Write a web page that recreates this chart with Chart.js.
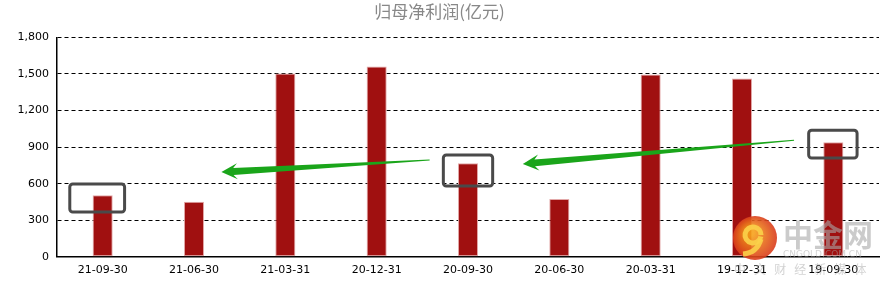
<!DOCTYPE html>
<html>
<head>
<meta charset="utf-8">
<script src="https://cdn.jsdelivr.net/npm/chart.js@4"></script>
<style>
  html, body { margin: 0; padding: 0; background: #fff; }
  #wrap { width: 887px; height: 286px; }
</style>
</head>
<body>
<div id="wrap"><canvas id="profitChart"></canvas></div>
<script>
// Data
const periods = ['21-09-30', '21-06-30', '21-03-31', '20-12-31', '20-09-30', '20-06-30', '20-03-31', '19-12-31', '19-09-30'];
const netProfit = [505, 452, 1503, 1562, 767, 475, 1496, 1462, 939];
const yTicks = [0, 300, 600, 900, 1200, 1500, 1800];

// Highlight boxes: category index, offsets in category units, value range
const boxIndex = [0, 4, 8];
const boxLeft = [-0.36, -0.27, -0.27];
const boxRight = [0.24, 0.27, 0.26];
const boxLow = [368, 581, 810];
const boxHigh = [597, 835, 1039];

// Arrows: tail -> head in (category position, value)
const arrowFrom = [[3.58, 794], [7.57, 957]];
const arrowTo = [[1.30, 695], [4.60, 762]];

const annotations = {
  id: 'annotations',
  afterDatasetsDraw(chart) {
    const { ctx, scales: { x, y } } = chart;
    const step = x.getPixelForValue(1) - x.getPixelForValue(0);
    ctx.save();

    // grey rounded boxes
    ctx.strokeStyle = '#4a4a4a';
    ctx.lineWidth = 3;
    boxIndex.forEach((idx, i) => {
      const cx = x.getPixelForValue(idx);
      const l = cx + boxLeft[i] * step;
      const r = cx + boxRight[i] * step;
      const t = y.getPixelForValue(boxHigh[i]);
      const b = y.getPixelForValue(boxLow[i]);
      ctx.beginPath();
      ctx.roundRect(l, t, r - l, b - t, 3);
      ctx.stroke();
    });

    // green tapered arrows
    ctx.fillStyle = '#1aa51a';
    arrowFrom.forEach((from, i) => {
      const to = arrowTo[i];
      const x1 = x.getPixelForValue(0) + from[0] * step;
      const y1 = y.getPixelForValue(from[1]);
      const x2 = x.getPixelForValue(0) + to[0] * step;
      const y2 = y.getPixelForValue(to[1]);
      const ang = Math.atan2(y2 - y1, x2 - x1);
      const len = Math.hypot(x2 - x1, y2 - y1);
      ctx.save();
      ctx.translate(x1, y1);
      ctx.rotate(ang);
      const headLen = 16;
      ctx.beginPath();
      ctx.moveTo(0, -0.5);
      ctx.lineTo(len - headLen + 4, -3.5);
      ctx.lineTo(len - headLen, -8);
      ctx.lineTo(len, 0);
      ctx.lineTo(len - headLen, 8);
      ctx.lineTo(len - headLen + 4, 3.5);
      ctx.lineTo(0, 0.5);
      ctx.closePath();
      ctx.fill();
      ctx.restore();
    });
    ctx.restore();
  },
  afterDraw(chart) {
    // watermark logo
    const { ctx } = chart;
    ctx.save();
    ctx.globalAlpha = 0.9;
    const g = ctx.createRadialGradient(750, 232, 4, 755, 238, 23);
    g.addColorStop(0, '#f7a21b');
    g.addColorStop(1, '#d8361c');
    ctx.fillStyle = g;
    ctx.beginPath();
    ctx.arc(755, 238, 22, 0, Math.PI * 2);
    ctx.fill();
    ctx.strokeStyle = '#fbd24a';
    ctx.lineWidth = 5;
    ctx.beginPath();
    ctx.arc(753, 235, 8, 0.2, Math.PI * 2);
    ctx.stroke();
    ctx.beginPath();
    ctx.moveTo(761, 239);
    ctx.quadraticCurveTo(757, 253, 743, 254);
    ctx.stroke();
    ctx.globalAlpha = 0.6;
    ctx.fillStyle = '#a8a8a8';
    ctx.font = 'bold 30px "Noto Sans CJK SC"';
    ctx.textBaseline = 'middle';
    ctx.fillText('中金网', 783, 235);
    ctx.globalAlpha = 0.5;
    ctx.font = '9px "DejaVu Sans"';
    ctx.fillText('CNGOLD.COM.CN', 783, 255);
    ctx.font = '12px "Noto Sans CJK SC"';
    ctx.fillText('中   文   财   经   新   媒   体', 734, 269);
    ctx.restore();
  }
};

new Chart(document.getElementById('profitChart'), {
  type: 'bar',
  data: {
    labels: periods,
    datasets: [{
      label: '归母净利润',
      data: netProfit,
      backgroundColor: '#a01010',
      borderColor: '#e3a9a9',
      borderWidth: 1,
      borderSkipped: false,
      categoryPercentage: 1,
      barPercentage: 0.22,
    }],
  },
  options: {
    responsive: true,
    maintainAspectRatio: false,
    animation: false,
    layout: { padding: { left: 0, right: 8, top: 0, bottom: 2 } },
    plugins: {
      legend: { display: false },
      tooltip: { enabled: false },
      title: {
        display: true,
        text: '归母净利润(亿元)',
        color: '#888',
        font: { family: '"Noto Sans CJK SC", sans-serif', size: 17, weight: 'normal' },
        padding: { top: 1, bottom: 16 },
      },
    },
    scales: {
      x: {
        grid: { display: false, drawTicks: false },
        border: { display: true, color: '#000', width: 1.5 },
        ticks: {
          color: '#000',
          padding: 7,
          maxRotation: 0,
          font: { family: '"DejaVu Sans", sans-serif', size: 11 },
        },
      },
      y: {
        min: 0,
        max: 1800,
        afterBuildTicks(scale) {
          scale.ticks = yTicks.map(v => ({ value: v }));
        },
        afterFit(scale) {
          scale.width = 57;
        },
        grid: { color: '#000', drawTicks: false, lineWidth: 1 },
        border: { display: true, color: '#000', width: 1.5, dash: [4, 3] },
        ticks: {
          color: '#000',
          padding: 8,
          font: { family: '"DejaVu Sans", sans-serif', size: 11 },
          callback: v => v.toLocaleString('en-US'),
        },
      },
    },
  },
  plugins: [annotations],
});
</script>
</body>
</html>
